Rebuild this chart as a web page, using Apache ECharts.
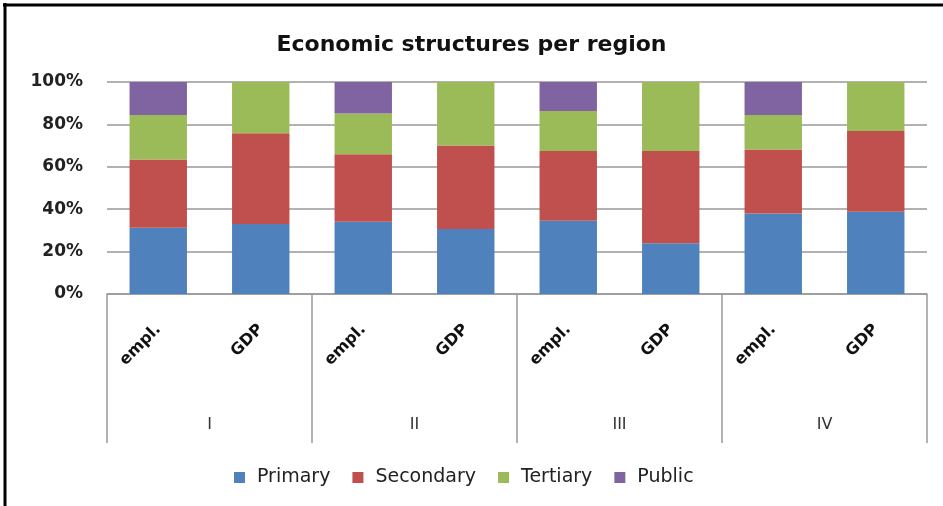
<!DOCTYPE html>
<html>
<head>
<meta charset="utf-8">
<script src="https://cdn.jsdelivr.net/npm/echarts@6/dist/echarts.min.js"></script>
<style>html,body{margin:0;padding:0;background:#fff}#c{width:943px;height:506px}</style>
</head>
<body>
<div id="c"></div>
<script>
var categories = ['empl.', 'GDP', 'empl.', 'GDP', 'empl.', 'GDP', 'empl.', 'GDP'];
var regions = ['I', 'II', 'III', 'IV'];
var primary   = [31.3, 33.0, 34.1, 30.7, 34.6, 23.9, 38.0, 38.8];
var secondary = [32.2, 42.8, 31.8, 39.3, 32.9, 43.6, 30.2, 38.1];
var tertiary  = [20.9, 24.2, 19.3, 30.0, 18.8, 32.5, 16.2, 23.1];
var publicS   = [15.6, 0, 14.8, 0, 13.7, 0, 15.6, 0];
var yTicks = [0, 20, 40, 60, 80, 100];

var chart = echarts.init(document.getElementById('c'));
var font = 'DejaVu Sans';
function bar(name, data, color) {
  return { name: name, type: 'bar', stack: 'total', data: data, barWidth: '56%',
    xAxisIndex: 0, itemStyle: { color: color } };
}
chart.setOption({
  animation: false,
  title: { text: 'Economic structures per region', left: 'center', top: 29,
    textStyle: { fontFamily: font, fontWeight: 'bold', fontSize: 22, color: '#111' } },
  grid: { left: 107, right: 16, top: 82, bottom: 212 },
  legend: { bottom: 14, left: 229, icon: 'rect', itemWidth: 11, itemHeight: 11, itemGap: 22,
    textStyle: { fontFamily: font, fontSize: 19, color: '#222', padding: [0, 0, 0, 7] } },
  xAxis: [
    { type: 'category', data: categories, position: 'bottom',
      axisLine: { show: false }, axisTick: { show: false },
      axisLabel: { rotate: 45, margin: 33, fontFamily: font, fontWeight: 'bold', fontSize: 16, color: '#111' } },
    { type: 'category', data: regions, position: 'bottom',
      axisLine: { show: true, lineStyle: { color: '#999', width: 1.5 } },
      axisTick: { show: true, length: 149, lineStyle: { color: '#999', width: 1.5 } },
      axisLabel: { margin: 123, fontFamily: font, fontSize: 16, color: '#333' } }
  ],
  yAxis: { type: 'value', min: 0, max: 100, interval: 20,
    axisLine: { show: false }, axisTick: { show: false },
    axisLabel: { margin: 24, formatter: function (v) { return yTicks.indexOf(v) >= 0 ? v + '%' : ''; },
      fontFamily: font, fontWeight: 'bold', fontSize: 17, color: '#222' },
    splitLine: { lineStyle: { color: '#999', width: 1.5 } } },
  series: [
    bar('Primary', primary, '#4F81BD'),
    bar('Secondary', secondary, '#C0504D'),
    bar('Tertiary', tertiary, '#9BBB59'),
    bar('Public', publicS, '#8064A2')
  ],
  graphic: [
    { type: 'line', shape: { x1: 3, y1: 5, x2: 943, y2: 5 }, style: { stroke: '#000', lineWidth: 3 } },
    { type: 'line', shape: { x1: 5, y1: 3, x2: 5, y2: 506 }, style: { stroke: '#000', lineWidth: 3 } }
  ]
});
</script>
</body>
</html>
